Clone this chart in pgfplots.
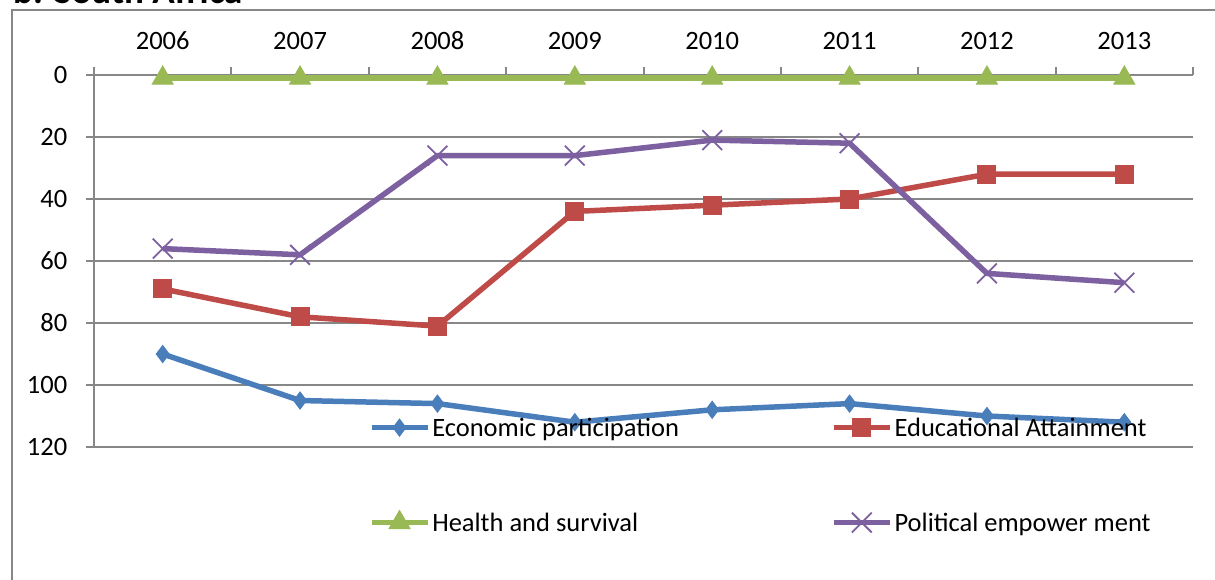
\documentclass[border=0pt]{standalone}
\usepackage{pgfplots}
\pgfplotsset{compat=1.18}
\usepackage{fontspec}
\setmainfont{Carlito}
\definecolor{econ}{HTML}{4A7EBB}
\definecolor{edu}{HTML}{BE4B48}
\definecolor{health}{HTML}{98B954}
\definecolor{pol}{HTML}{7D60A0}
\definecolor{gridgray}{HTML}{878787}

\begin{document}
\begin{tikzpicture}
\useasboundingbox (0pt,0pt) rectangle (1215pt,579pt);
% chart frame and title
\draw[gridgray, line width=2pt] (12pt,-30pt) -- (12pt,569pt) -- (1260pt,569pt);
\node[anchor=base west, font=\fontsize{37}{44}\selectfont\bfseries, inner sep=0pt] at (13pt,575pt) {b. South Africa};
\begin{axis}[
  at={(94pt,132pt)}, anchor=south west,
  scale only axis, width=1099pt, height=372pt,
  y dir=reverse, ymin=0, ymax=120, ytick={0,20,...,120},
  xmin=-0.5, xmax=7.5, xtick={0,...,7},
  xticklabels={2006,2007,2008,2009,2010,2011,2012,2013},
  minor xtick={-0.5,0.5,...,7.5},
  axis x line*=top, axis y line*=left,
  axis line style={gridgray, line width=2pt},
  tick align=outside,
  major tick length=8pt, minor tick length=8pt,
  major x tick style={draw=none},
  minor x tick style={gridgray, line width=2pt},
  major y tick style={gridgray, line width=2pt},
  ymajorgrids, grid style={gridgray, line width=2pt},
  /pgf/number format/assume math mode=true,
  tick label style={font=\fontsize{26.5}{31}\selectfont},
  yticklabel style={inner sep=0pt, xshift=-16pt},
  xticklabel style={inner sep=0pt, yshift=15pt},
  legend columns=2,
  legend cell align=left,
  legend image code/.code={\draw[mark repeat=2,mark phase=2,#1] plot coordinates {(0pt,0pt) (28pt,0pt) (56pt,0pt)};},
  legend style={draw=none, fill=none, at={(axis cs:1.48,109)}, anchor=north west,
    font=\fontsize{26.5}{31}\selectfont, inner sep=0pt,
    nodes={inner sep=2pt},
    row sep=71pt,
    /tikz/every even column/.append style={column sep=150pt}},
  line width=5.5pt,
]
\addplot[econ, mark=diamond*, mark size=8.5pt, mark options={solid, line width=1pt}]
  coordinates {(0,90) (1,105) (2,106) (3,112) (4,108) (5,106) (6,110) (7,112)};
\addlegendentry{Economic participation}
\addplot[edu, mark=square*, mark size=9pt, mark options={solid, line width=1pt}]
  coordinates {(0,69) (1,78) (2,81) (3,44) (4,42) (5,40) (6,32) (7,32)};
\addlegendentry{Educational Attainment}
\addplot[health, mark=triangle*, mark size=12pt, mark options={solid, line width=1pt}]
  coordinates {(0,1) (1,1) (2,1) (3,1) (4,1) (5,1) (6,1) (7,1)};
\addlegendentry{Health and survival}
\addplot[pol, mark=x, mark size=14pt, mark options={solid, line width=1.8pt}]
  coordinates {(0,56) (1,58) (2,26) (3,26) (4,21) (5,22) (6,64) (7,67)};
\addlegendentry{Political empower ment}
\end{axis}
\end{tikzpicture}
\end{document}
